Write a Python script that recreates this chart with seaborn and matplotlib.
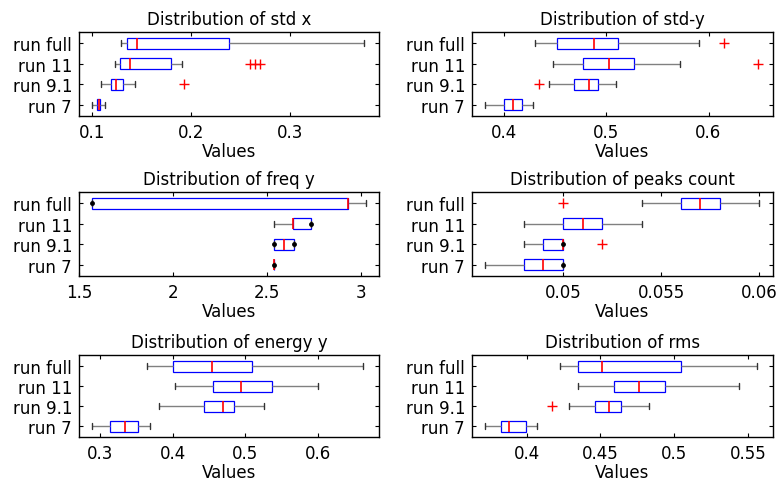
import numpy as np
import pandas as pd
import matplotlib
matplotlib.use("Agg")
import matplotlib.pyplot as plt
from matplotlib.ticker import FuncFormatter
import seaborn as sns

runs = ["run full", "run 11", "run 9.1", "run 7"]

# five-number summaries per run: [low whisker, q1, median, q3, high whisker]
std_x = [[0.129, 0.1357, 0.1455, 0.238, 0.375],
         [0.123, 0.128, 0.1387, 0.180, 0.191],
         [0.1094, 0.1195, 0.1242, 0.1313, 0.1438],
         [0.1003, 0.105, 0.107, 0.1084, 0.1135]]
std_x_out = [[], [0.260, 0.265, 0.270], [0.193], []]

std_y = [[0.4306, 0.4518, 0.488, 0.5114, 0.591],
         [0.4485, 0.477, 0.503, 0.527, 0.5726],
         [0.444, 0.469, 0.483, 0.4925, 0.510],
         [0.3818, 0.400, 0.4094, 0.418, 0.4283]]
std_y_out = [[0.6156], [0.648], [0.434], []]

freq_y = [[1.568, 1.568, 2.929, 2.929, 3.023],
          [2.537, 2.639, 2.639, 2.733, 2.733],
          [2.537, 2.537, 2.587, 2.640, 2.640],
          [2.537, 2.537, 2.537, 2.537, 2.537]]
freq_y_out = [[], [], [], []]
freq_y_dots = [[1.568], [2.733], [2.537, 2.640], [2.537]]

peaks = [[0.054, 0.056, 0.057, 0.058, 0.060],
         [0.048, 0.050, 0.051, 0.052, 0.054],
         [0.048, 0.049, 0.050, 0.050, 0.050],
         [0.046, 0.048, 0.049, 0.050, 0.050]]
peaks_out = [[0.050], [], [0.052], []]
peaks_dots = [[], [], [0.050], [0.050]]

energy_y = [[0.365, 0.400, 0.4534, 0.5087, 0.6616],
            [0.4027, 0.4548, 0.4945, 0.536, 0.600],
            [0.3813, 0.4425, 0.469, 0.484, 0.526],
            [0.289, 0.3137, 0.334, 0.3525, 0.3685]]
energy_y_out = [[], [], [], []]

rms = [[0.4225, 0.4346, 0.4512, 0.5044, 0.556],
       [0.4348, 0.4593, 0.4759, 0.4934, 0.5437],
       [0.4287, 0.446, 0.4557, 0.4642, 0.4826],
       [0.372, 0.3827, 0.3879, 0.3996, 0.407]]
rms_out = [[], [], [0.4175], []]

titles = ["Distribution of std x", "Distribution of std-y",
          "Distribution of freq y", "Distribution of peaks count",
          "Distribution of energy y", "Distribution of rms"]

sns.set_theme(style="white")
plt.rcParams["font.family"] = ["DejaVu Sans"]
plt.rcParams["font.size"] = 12
plt.rcParams["text.color"] = "black"
plt.rcParams["axes.labelcolor"] = "black"
plt.rcParams["axes.titlecolor"] = "black"
plt.rcParams["xtick.color"] = "black"
plt.rcParams["ytick.color"] = "black"

W, H = 781, 485
fig = plt.figure(figsize=(W / 100, H / 100), dpi=100)

col_x = [(79, 379), (472, 773)]
row_y = [(33, 117), (193, 277), (356, 438)]

panels = [
    (std_x, std_x_out, None, (0.0868, 0.390), [0.1, 0.2, 0.3]),
    (std_y, std_y_out, None, (0.369, 0.663), [0.4, 0.5, 0.6]),
    (freq_y, freq_y_out, freq_y_dots, (1.5, 3.094), [1.5, 2, 2.5, 3]),
    (peaks, peaks_out, peaks_dots, (0.04536, 0.0607), [0.05, 0.055, 0.06]),
    (energy_y, energy_y_out, None, (0.2712, 0.6836), [0.3, 0.4, 0.5, 0.6]),
    (rms, rms_out, None, (0.363, 0.5668), [0.4, 0.45, 0.5, 0.55]),
]

for i, (stats, outs, dots, xlim, xticks) in enumerate(panels):
    r, c = divmod(i, 2)
    x0, x1 = col_x[c]
    y0, y1 = row_y[r]
    ax = fig.add_axes([x0 / W, 1 - y1 / H, (x1 - x0) / W, (y1 - y0) / H])

    df = pd.DataFrame({
        "run": [run for run, s in zip(runs, stats) for _ in s],
        "value": [v for s in stats for v in s],
    })
    sns.boxplot(data=df, x="value", y="run", order=runs, orient="h",
                whis=(0, 100), width=0.55, fliersize=0, ax=ax,
                boxprops=dict(facecolor="white", edgecolor="#0000ff", linewidth=0.9),
                medianprops=dict(color="#ff0000", linewidth=1.2),
                whiskerprops=dict(color="#808080", linewidth=1.0),
                capprops=dict(color="#333333", linewidth=1.0))

    odf = pd.DataFrame({
        "run": [run for run, o in zip(runs, outs) for _ in o],
        "value": [v for o in outs for v in o],
    })
    if len(odf):
        sns.stripplot(data=odf, x="value", y="run", order=runs, orient="h",
                      jitter=False, marker="+", color="#ff0000", size=7,
                      linewidth=1.0, ax=ax, zorder=5)
    if dots is not None:
        ddf = pd.DataFrame({
            "run": [run for run, d in zip(runs, dots) for _ in d],
            "value": [v for d in dots for v in d],
        })
        sns.stripplot(data=ddf, x="value", y="run", order=runs, orient="h",
                      jitter=False, marker="o", color="black", size=3.5,
                      linewidth=0, ax=ax, zorder=6)

    ax.set_xlim(*xlim)
    ax.set_ylim(3.55, -0.55)
    ax.set_xticks(xticks)
    ax.xaxis.set_major_formatter(FuncFormatter(lambda v, p: "%g" % v))
    ax.set_yticks(range(len(runs)))
    ax.set_yticklabels(runs)
    ax.set_ylabel("")
    ax.set_xlabel("Values", fontsize=12, labelpad=1, color="black")
    ax.set_title(titles[i], fontsize=12, pad=6, color="black")
    ax.tick_params(direction="in", length=3, width=0.8, top=True, right=True,
                   bottom=True, left=True, labelsize=12, colors="black",
                   pad=5)
    for sp in ax.spines.values():
        sp.set_visible(True)
        sp.set_color("black")
        sp.set_linewidth(1.0)

fig.savefig("out.png", dpi=100, facecolor="white")
